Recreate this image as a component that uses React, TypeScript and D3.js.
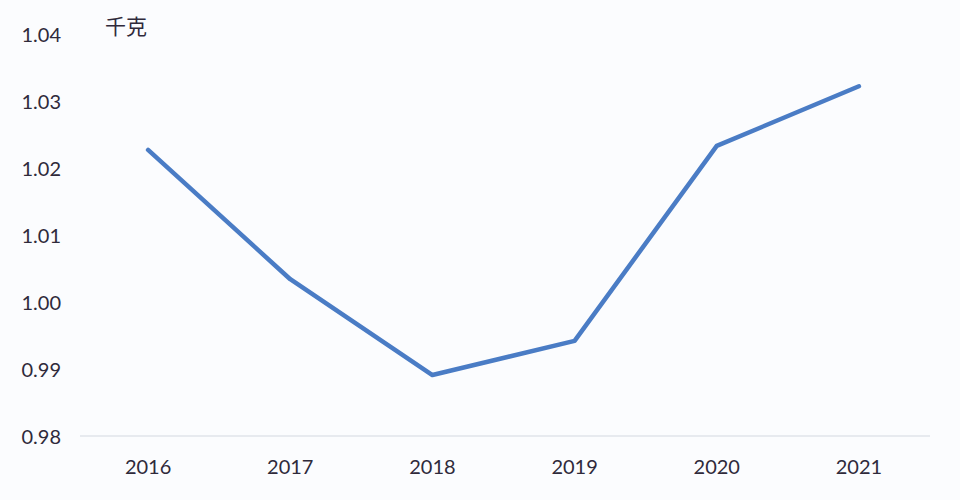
import * as d3 from "d3";

const years = ["2016", "2017", "2018", "2019", "2020", "2021"];
const weights = [1.0227, 1.0034, 0.9891, 0.9942, 1.0233, 1.0322];
const yTicks = [0.98, 0.99, 1.0, 1.01, 1.02, 1.03, 1.04];
const unitLabel = "千克";

const width = 960;
const height = 500;

export default function App() {
  const x = d3.scaleBand<string>().domain(years).range([77, 930]);
  const y = d3.scaleLinear().domain([0.98, 1.04]).range([436, 34]);

  const line = d3
    .line<number>()
    .x((_, i) => (x(years[i]) ?? 0) + x.bandwidth() / 2)
    .y((d) => y(d));

  const textColor = "#2f2a3b";
  const font = "Lato, 'Open Sans', sans-serif";

  return (
    <svg
      width={width}
      height={height}
      style={{ position: "absolute", left: 0, top: 0 }}
    >
      <rect x={0} y={0} width={width} height={height} fill="#fbfcfe" />

      {/* y tick labels */}
      {yTicks.map((t) => (
        <text
          key={`y-${t}`}
          x={61}
          y={y(t)}
          textAnchor="end"
          dominantBaseline="central"
          fontFamily={font}
          fontSize={20}
          fill={textColor}
        >
          {t.toFixed(2)}
        </text>
      ))}

      {/* baseline */}
      <line
        x1={80}
        x2={930}
        y1={y(0.98)}
        y2={y(0.98)}
        stroke="#d3d7df"
        strokeWidth={1.2}
      />

      {/* x labels */}
      {years.map((yr) => (
        <text
          key={`x-${yr}`}
          x={(x(yr) ?? 0) + x.bandwidth() / 2}
          y={474}
          textAnchor="middle"
          fontFamily={font}
          fontSize={20}
          fill={textColor}
        >
          {yr}
        </text>
      ))}

      <text
        x={105}
        y={34}
        fontFamily="'Noto Sans CJK SC', sans-serif"
        fontSize={21}
        fill={textColor}
      >
        {unitLabel}
      </text>

      <path
        d={line(weights) ?? ""}
        fill="none"
        stroke="#4a7cc5"
        strokeWidth={4.5}
        strokeLinecap="round"
        strokeLinejoin="round"
      />
    </svg>
  );
}
